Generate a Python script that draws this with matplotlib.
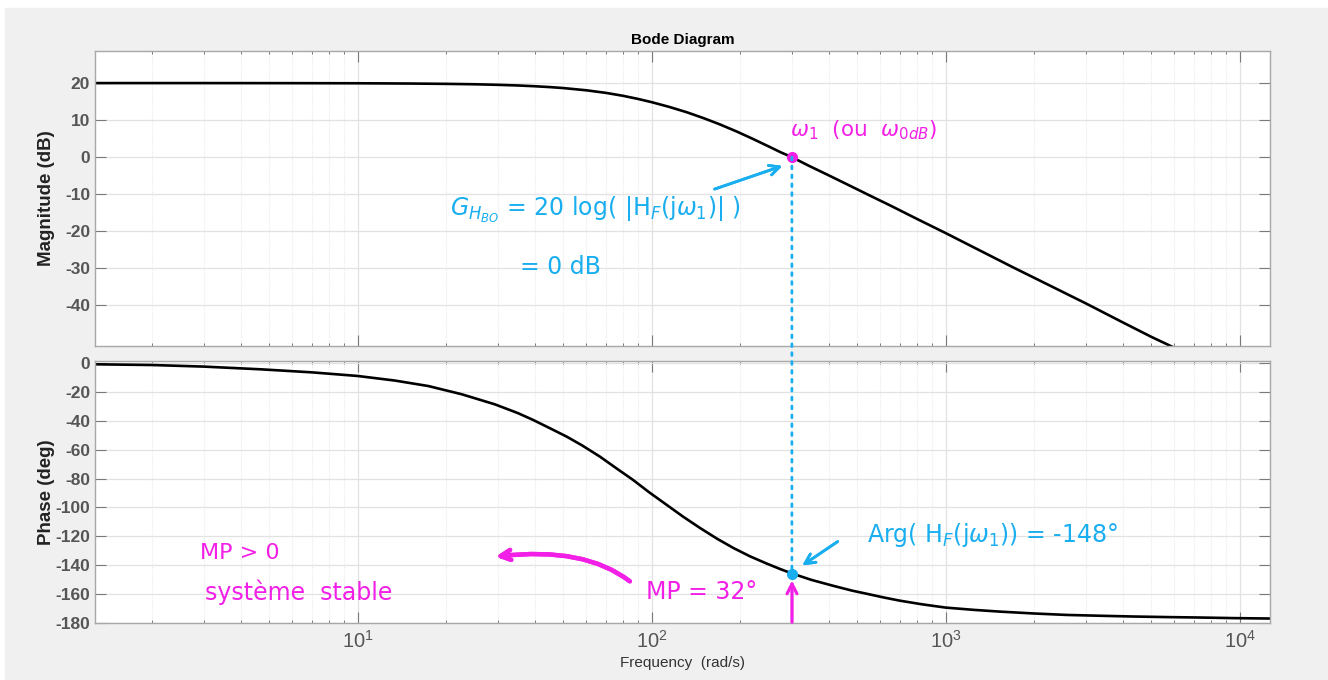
import numpy as np
import matplotlib
matplotlib.use("Agg")
import matplotlib.pyplot as plt
from matplotlib.patches import Rectangle, ConnectionPatch
from matplotlib.ticker import LogLocator, NullFormatter, LogFormatterMathtext

plt.rcParams['font.family'] = ['Liberation Sans', 'DejaVu Sans']
plt.rcParams['mathtext.fontset'] = 'dejavusans'
plt.rcParams['axes.unicode_minus'] = False

# courbe de gain
mag_freq = [1.28, 3, 6, 10, 15, 20, 25, 30, 35, 40, 45, 50, 60, 70, 80, 90,
            100, 115, 132, 150, 170, 195, 220, 250, 275, 300, 340, 400, 472,
            550, 650, 800, 1000, 1300, 1700, 2200, 3000, 4000, 5000, 5900]
mag_db = [20.0, 20.0, 19.98, 19.95, 19.88, 19.79, 19.68, 19.53, 19.36, 19.15,
          18.92, 18.66, 18.05, 17.35, 16.56, 15.71, 14.85, 13.55, 12.1, 10.55,
          8.9, 6.9, 5.0, 2.9, 1.3, 0.0, -2.2, -4.9, -7.7, -10.3, -13.1, -16.7,
          -20.5, -25.1, -29.8, -34.2, -39.5, -44.6, -48.5, -51.2]

# courbe de phase
ph_freq = [1.28, 2, 3, 4.7, 7, 10, 13.4, 17.4, 22.6, 29.3, 35, 39.5, 45, 51.4,
           58, 66.7, 76, 86.5, 98, 112, 128, 146, 167, 190, 216, 246, 275,
           303, 350, 415, 480, 539, 620, 699, 830, 1000, 1250, 1531, 2000,
           2581, 3400, 4350, 5700, 7330, 9500, 12690]
ph_deg = [-0.7, -1.2, -2.3, -4.2, -6.3, -8.8, -12.0, -15.8, -21.5, -28.5,
          -34.5, -39.3, -45.0, -50.9, -57.0, -64.8, -73.0, -81.0, -89.5,
          -98.0, -106.5, -114.3, -121.8, -128.3, -134.0, -139.0, -143.0,
          -146.2, -150.4, -154.5, -157.8, -160.0, -162.7, -164.8, -167.3,
          -169.6, -171.2, -172.4, -173.7, -174.7, -175.3, -175.8, -176.2,
          -176.5, -176.9, -177.2]

# point de coupure
w1 = 300
g_w1 = 0
arg_w1 = -146.2

mag_ticks = [20, 10, 0, -10, -20, -30, -40]
ph_ticks = [0, -20, -40, -60, -80, -100, -120, -140, -160, -180]

cyan = '#19aeef'
magenta = '#f21fe6'
tick_gray = '#555555'

fig = plt.figure(figsize=(13.28, 6.8), dpi=100, facecolor='white')
fig.patches.append(Rectangle((5 / 1328, 0), 1, 672 / 680, transform=fig.transFigure,
                             color='#f0f0f0', zorder=-10))

ax1 = fig.add_axes([95 / 1328, 1 - 346 / 680, 1175 / 1328, 295.5 / 680])
ax2 = fig.add_axes([95 / 1328, 1 - 623 / 680, 1175 / 1328, 262.3 / 680])

for ax in (ax1, ax2):
    ax.set_xscale('log')
    ax.set_xlim(1.278, 12690)
    ax.set_facecolor('white')
    ax.xaxis.set_major_locator(LogLocator(base=10, numticks=10))
    ax.xaxis.set_minor_locator(LogLocator(base=10, subs=np.arange(2, 10), numticks=20))
    ax.tick_params(which='major', direction='in', length=8, width=0.8, color='#7a7a7a',
                   top=True, right=True, labelsize=12.5, labelcolor=tick_gray)
    ax.tick_params(which='minor', direction='in', length=2.5, width=0.7, color='#7a7a7a',
                   top=True, right=False)
    ax.grid(True, which='major', color='#e2e2e2', lw=0.9)
    ax.grid(True, which='minor', axis='x', color='#ececec', lw=0.8, ls=(0, (1, 1)))
    for s in ax.spines.values():
        s.set_color('#a8a8a8')
        s.set_linewidth(1.0)
    ax.set_axisbelow(True)

ax1.plot(mag_freq, mag_db, color='black', lw=1.9)
ax1.set_ylim(-51, 28.8)
ax1.set_yticks(mag_ticks)
ax1.xaxis.set_major_formatter(NullFormatter())
ax1.xaxis.set_minor_formatter(NullFormatter())
ax1.set_ylabel('Magnitude (dB)', fontsize=13.5, fontweight='bold', color='#222222')
ax1.yaxis.set_label_coords(-0.034, 0.5)
ax1.set_title('Bode Diagram', fontsize=11, fontweight='bold', pad=5)

ax2.plot(ph_freq, ph_deg, color='black', lw=1.9)
ax2.set_ylim(-180.3, 1.8)
ax2.set_yticks(ph_ticks)
ax2.xaxis.set_major_formatter(LogFormatterMathtext())
ax2.xaxis.set_minor_formatter(NullFormatter())
ax2.tick_params(axis='x', which='major', pad=5, labelsize=14.5)
ax2.set_ylabel('Phase (deg)', fontsize=13.5, fontweight='bold', color='#222222')
ax2.yaxis.set_label_coords(-0.034, 0.5)
ax2.set_xlabel('Frequency  (rad/s)', fontsize=11, color='#333333', labelpad=3)

for lab in ax1.get_yticklabels() + ax2.get_yticklabels():
    lab.set_fontweight('bold')

# annotations manuscrites
con = ConnectionPatch(xyA=(w1, g_w1), coordsA=ax1.transData,
                      xyB=(w1, arg_w1), coordsB=ax2.transData,
                      color=cyan, lw=2, ls=(0, (1, 2.2)), zorder=5)
fig.add_artist(con)
ax1.plot([w1], [g_w1], 'o', color=magenta, ms=7, zorder=6)
ax2.plot([w1], [arg_w1], 'o', color=cyan, ms=7, zorder=6)


def fp(x, y):
    return (x, 680 - y)


hand = dict(family=['DejaVu Sans'])
fig.text(*fp(790, 130), r'$\omega_1$  (ou  $\omega_{0dB}$)', color=magenta, fontsize=15.5,
         ha='left', va='center', transform=None, **hand)
fig.text(*fp(595, 210), r'$G_{H_{BO}}$ = 20 log( |H$_F$(j$\omega_1$)| )', color=cyan,
         fontsize=17, ha='center', va='center', transform=None, **hand)
fig.text(*fp(560, 267), '= 0 dB', color=cyan, fontsize=17, ha='center', va='center',
         transform=None, **hand)
fig.text(*fp(993, 535), r'Arg( H$_F$(j$\omega_1$)) = -148°', color=cyan, fontsize=17,
         ha='center', va='center', transform=None, **hand)
fig.text(*fp(702, 592), 'MP = 32°', color=magenta, fontsize=17, ha='center',
         va='center', transform=None, **hand)
fig.text(*fp(200, 553), 'MP > 0', color=magenta, fontsize=16, ha='left',
         va='center', transform=None, **hand)
fig.text(*fp(205, 592), 'système  stable', color=magenta, fontsize=17, ha='left',
         va='center', transform=None, **hand)

arrow_c = dict(arrowstyle='->', color=cyan, lw=2, mutation_scale=18)
arrow_m = dict(arrowstyle='->', color=magenta, lw=2, mutation_scale=18)
fig.add_artist(plt.annotate('', xy=fp(785, 165), xytext=fp(712, 190),
                            xycoords='figure pixels', textcoords='figure pixels',
                            arrowprops=arrow_c))
fig.add_artist(plt.annotate('', xy=fp(800, 567), xytext=fp(840, 540),
                            xycoords='figure pixels', textcoords='figure pixels',
                            arrowprops=arrow_c))
fig.add_artist(plt.annotate('', xy=fp(792, 578), xytext=fp(792, 625),
                            xycoords='figure pixels', textcoords='figure pixels',
                            arrowprops=arrow_m))
fig.add_artist(plt.annotate('', xy=fp(493, 557), xytext=fp(632, 583),
                            xycoords='figure pixels', textcoords='figure pixels',
                            arrowprops=dict(arrowstyle='->', color=magenta, lw=3.2,
                                            mutation_scale=18,
                                            connectionstyle='angle3,angleA=141,angleB=7')))

fig.savefig('out.png', dpi=100, facecolor=fig.get_facecolor())
